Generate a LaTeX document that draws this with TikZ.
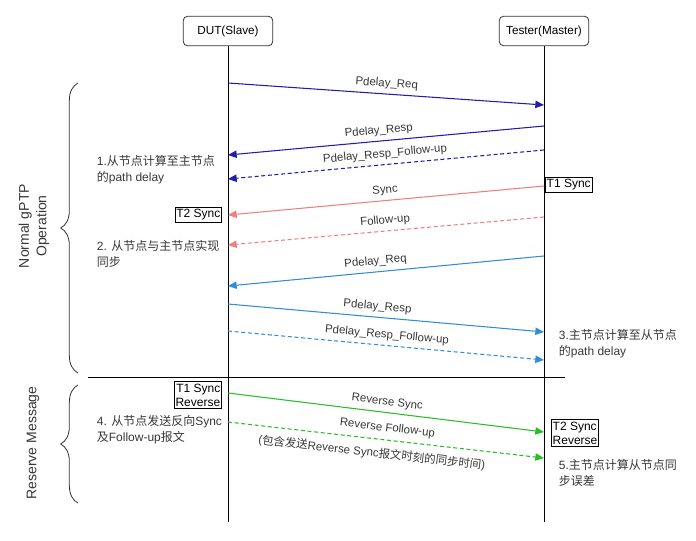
\documentclass[tikz,border=0pt]{standalone}
\usepackage{fontspec}
\setmainfont{Liberation Sans}
\newfontfamily\cjk{Noto Sans CJK SC}
\usetikzlibrary{arrows.meta,decorations.pathreplacing}

\definecolor{pdblue}{RGB}{30,30,170}
\definecolor{syncred}{RGB}{240,128,128}
\definecolor{pdlight}{RGB}{50,140,220}
\definecolor{revgreen}{RGB}{40,190,40}
\definecolor{txtgray}{RGB}{55,55,55}

\begin{document}
\begin{tikzpicture}[x=0.75pt,y=-0.75pt,line width=0.6pt,
  lifebox/.style={draw=black!80,rounded corners=3pt,minimum width=67pt,minimum height=22pt,font=\fontsize{8.8}{10}\selectfont},
  stampbox/.style={draw,inner xsep=1pt,inner ysep=1.6pt,font=\fontsize{9}{10.5}\selectfont,align=left},
  msg/.style={line width=0.8pt,-{Triangle[length=6.5pt,width=5.5pt]}},
  fup/.style={msg,dash pattern=on 3pt off 2pt},
  lbl/.style={font=\fontsize{8.6}{10}\selectfont,text=txtgray,sloped},
  note/.style={font=\fontsize{9}{12}\selectfont,text=txtgray,align=left,anchor=west},
  side/.style={font=\fontsize{10.5}{13}\selectfont,text=txtgray,align=center,rotate=90},
  grp/.style={decorate,decoration={brace,amplitude=13pt},line width=0.6pt,black!80}]

\useasboundingbox (0,0) rectangle (696,540);

% Participants and lifelines
\node[lifebox] (dut) at (228,31) {DUT(Slave)};
\node[lifebox] (tester) at (544,31) {Tester(Master)};
\coordinate (dutend) at (228,522);
\coordinate (testerend) at (544,522);
\draw (dut.south) -- (dutend);
\draw (tester.south) -- (testerend);

% Separator
\coordinate (sepl) at (88,377);
\coordinate (sepr) at (565,377);
\draw (sepl) -- (sepr);

% Groups
\coordinate (g1top) at (78,83);
\coordinate (g1bot) at (78,373);
\coordinate (g2top) at (78,385);
\coordinate (g2bot) at (78,503);
\draw[grp] (g1bot) -- (g1top);
\draw[grp] (g2bot) -- (g2top);
\node[side] (grpnormal) at (34,226) {Normal gPTP\\Operation};
\node[side] (grpreserve) at (33,443) {Reserve Message};

% Normal gPTP Operation
\coordinate (s1) at (228,83);  \coordinate (m1) at (544,105);
\coordinate (m2) at (544,126); \coordinate (s2) at (228,155);
\coordinate (m3) at (544,150); \coordinate (s3) at (228,179);
\draw[msg,pdblue] (s1) -- node[lbl,above] {Pdelay\_Req} (m1);
\draw[msg,pdblue] (m2) -- node[lbl,above,pos=0.52] {Pdelay\_Resp} (s2);
\draw[fup,pdblue] (m3) -- node[lbl,above] {Pdelay\_Resp\_Follow-up} (s3);

\coordinate (m4) at (544,186); \coordinate (s4) at (228,215);
\coordinate (m5) at (544,217); \coordinate (s5) at (228,245);
\draw[msg,syncred] (m4) -- node[lbl,above] {Sync} (s4);
\draw[fup,syncred] (m5) -- node[lbl,above] {Follow-up} (s5);

\coordinate (m6) at (544,256); \coordinate (s6) at (228,286);
\coordinate (s7) at (228,304); \coordinate (m7) at (544,332);
\coordinate (s8) at (228,331); \coordinate (m8) at (544,360);
\draw[msg,pdlight] (m6) -- node[lbl,above,pos=0.53] {Pdelay\_Req} (s6);
\draw[msg,pdlight] (s7) -- node[lbl,above,pos=0.47] {Pdelay\_Resp} (m7);
\draw[fup,pdlight] (s8) -- node[lbl,above] {Pdelay\_Resp\_Follow-up} (m8);

% Reserve Message
\coordinate (s9) at (228,393);  \coordinate (m9) at (544,432);
\coordinate (s10) at (228,422); \coordinate (m10) at (544,458);
\draw[msg,revgreen] (s9) -- node[lbl,above] {Reverse Sync} (m9);
\draw[fup,revgreen] (s10) -- node[lbl,above=1pt] {Reverse Follow-up}
  node[lbl,below=2.5pt,pos=0.46] {({\cjk 包含发送}Reverse Sync{\cjk 报文时刻的同步时间})} (m10);

% Timestamps
\node[stampbox,anchor=west] (t1) at (545,185) {T1 Sync};
\node[stampbox,anchor=east] (t2) at (222,215) {T2 Sync};
\node[stampbox,anchor=east,align=right] (t1r) at (222,395) {T1 Sync\\Reverse};
\node[stampbox,anchor=west] (t2r) at (551,433) {T2 Sync\\Reverse};

% Notes
\node[note] (note1) at (92,170) {1.{\cjk 从节点计算至主节点}\\{\cjk 的}path delay};
\node[note] (note2) at (92,254) {2. {\cjk 从节点与主节点实现}\\{\cjk 同步}};
\node[note] (note3) at (554,344) {3.{\cjk 主节点计算至从节点}\\{\cjk 的}path delay};
\node[note] (note4) at (92,430) {4. {\cjk 从节点发送反向}Sync\\{\cjk 及}Follow-up{\cjk 报文}};
\node[note] (note5) at (554,473) {5.{\cjk 主节点计算从节点同}\\{\cjk 步误差}};

\end{tikzpicture}
\end{document}
